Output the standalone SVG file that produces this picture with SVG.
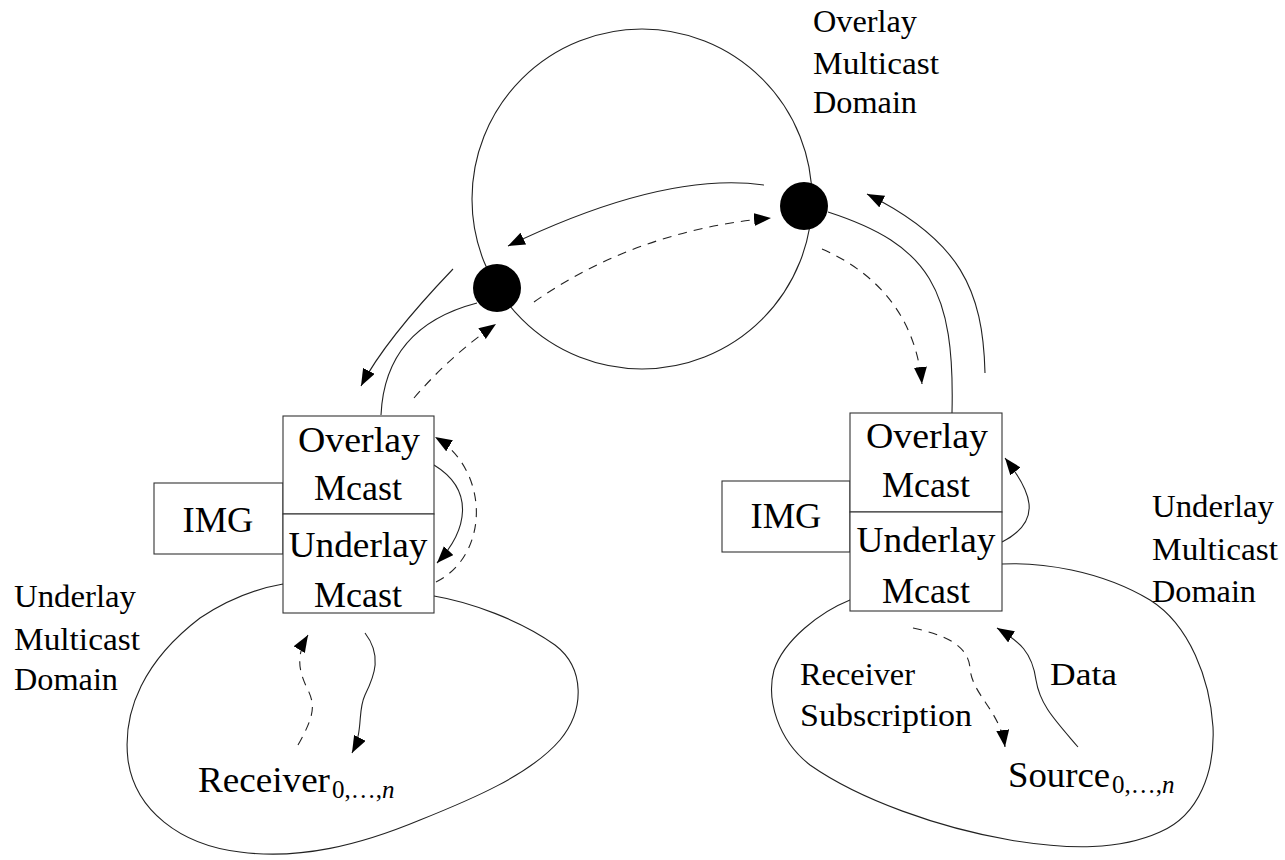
<svg xmlns="http://www.w3.org/2000/svg" width="1285" height="860" viewBox="0 0 1285 860">
<style>
.ln{fill:none;stroke:#222;stroke-width:1.1}
.ds{fill:none;stroke:#222;stroke-width:1.1;stroke-dasharray:9 7}
.bx{fill:#fff;stroke:#333;stroke-width:1.1}
.t{font-family:"Liberation Serif","DejaVu Serif",serif;fill:#000}
.b{font-size:35px;text-anchor:middle}
.l{font-size:31px}
.s{font-size:25px}
</style>
<defs>
<marker id="ah" markerUnits="userSpaceOnUse" markerWidth="18" markerHeight="14" refX="17" refY="6.5" orient="auto">
<path d="M0,0 L17,6.5 L0,13 z" fill="#000"/>
</marker>
</defs>
<g id="domains">
<path id="left-domain" class="ln" d="M434,596 C470,602 520,620 555,645 C585,668 585,710 560,740 C530,775 470,800 420,820 C360,845 300,860 240,852 C180,845 135,810 128,760 C122,710 145,660 200,618 C230,598 260,588 283,584 Z"/>
<path id="right-domain" class="ln" d="M1002,564 C1040,562 1100,570 1150,600 C1190,625 1210,680 1213,727 C1215,770 1200,815 1160,832 C1120,850 1070,850 1010,840 C940,828 860,800 810,765 C778,740 766,700 774,670 C784,640 820,612 850,600 Z"/>
<circle id="overlay-domain" class="ln" cx="642" cy="199" r="170"/>
</g>
<g id="connectors">
<path class="ln" d="M453,269 Q385,340 361,386" marker-end="url(#ah)"/>
<path class="ln" d="M381,415 Q385,327 477,303"/>
<path class="ds" d="M414,398 Q450,356 496,324" marker-end="url(#ah)"/>
<path class="ln" d="M764,185 Q664,171 508,246" marker-end="url(#ah)"/>
<path class="ds" d="M534,302 Q637,230 771,218" marker-end="url(#ah)"/>
<path class="ln" d="M828,212 C930,245 955,290 952,413"/>
<path class="ln" d="M985,373 C983,290 960,240 867,194" marker-end="url(#ah)"/>
<path class="ds" d="M822,249 C870,270 915,310 922,384" marker-end="url(#ah)"/>
<path class="ln" d="M434,465 C475,490 468,530 437,563" marker-end="url(#ah)"/>
<path class="ds" d="M436,582 C490,555 490,470 435,437" marker-end="url(#ah)"/>
<path class="ln" d="M1002,542 C1045,520 1030,490 1005,458" marker-end="url(#ah)"/>
<path class="ds" d="M298,745 C315,715 315,705 308,690 C298,670 296,655 308,635" marker-end="url(#ah)"/>
<path class="ln" d="M365,633 C382,655 375,675 365,695 C357,712 364,730 352,753" marker-end="url(#ah)"/>
<path class="ds" d="M913,628 C945,635 968,645 970,668 C972,695 1000,710 1005,747" marker-end="url(#ah)"/>
<path class="ln" d="M1078,747 C1055,720 1040,705 1036,680 C1032,652 1020,642 997,628" marker-end="url(#ah)"/>
</g>
<g id="gateway-left">
<circle cx="497" cy="288" r="24" fill="#000"/>
</g>
<g id="gateway-right">
<circle cx="804" cy="206" r="24" fill="#000"/>
</g>
<g id="img-left">
<rect class="bx" x="154" y="483" width="129" height="71"/>
<text class="t b" x="218" y="532" textLength="71" lengthAdjust="spacingAndGlyphs">IMG</text>
</g>
<g id="overlay-left">
<rect class="bx" x="283" y="416" width="151" height="98"/>
<text class="t b" x="359" y="452" textLength="122" lengthAdjust="spacingAndGlyphs">Overlay</text>
<text class="t b" x="358" y="500" textLength="88" lengthAdjust="spacingAndGlyphs">Mcast</text>
</g>
<g id="underlay-left">
<rect class="bx" x="283" y="514" width="151" height="99"/>
<text class="t b" x="358" y="557" textLength="139" lengthAdjust="spacingAndGlyphs">Underlay</text>
<text class="t b" x="358" y="607" textLength="88" lengthAdjust="spacingAndGlyphs">Mcast</text>
</g>
<g id="img-right">
<rect class="bx" x="722" y="481" width="128" height="71"/>
<text class="t b" x="786" y="528" textLength="71" lengthAdjust="spacingAndGlyphs">IMG</text>
</g>
<g id="overlay-right">
<rect class="bx" x="850" y="413" width="152" height="99"/>
<text class="t b" x="927" y="448" textLength="122" lengthAdjust="spacingAndGlyphs">Overlay</text>
<text class="t b" x="926" y="497" textLength="88" lengthAdjust="spacingAndGlyphs">Mcast</text>
</g>
<g id="underlay-right">
<rect class="bx" x="850" y="512" width="152" height="99"/>
<text class="t b" x="926" y="552" textLength="139" lengthAdjust="spacingAndGlyphs">Underlay</text>
<text class="t b" x="926" y="603" textLength="88" lengthAdjust="spacingAndGlyphs">Mcast</text>
</g>
<g id="labels">
<text class="t l" x="813" y="32" textLength="104" lengthAdjust="spacingAndGlyphs">Overlay</text>
<text class="t l" x="813" y="74" textLength="126" lengthAdjust="spacingAndGlyphs">Multicast</text>
<text class="t l" x="813" y="113" textLength="104" lengthAdjust="spacingAndGlyphs">Domain</text>
<text class="t l" x="14" y="607" textLength="122" lengthAdjust="spacingAndGlyphs">Underlay</text>
<text class="t l" x="14" y="650" textLength="126" lengthAdjust="spacingAndGlyphs">Multicast</text>
<text class="t l" x="14" y="690" textLength="104" lengthAdjust="spacingAndGlyphs">Domain</text>
<text class="t l" x="1152" y="517" textLength="122" lengthAdjust="spacingAndGlyphs">Underlay</text>
<text class="t l" x="1152" y="560" textLength="126" lengthAdjust="spacingAndGlyphs">Multicast</text>
<text class="t l" x="1152" y="602" textLength="104" lengthAdjust="spacingAndGlyphs">Domain</text>
<text class="t l" x="800" y="685" textLength="115" lengthAdjust="spacingAndGlyphs">Receiver</text>
<text class="t l" x="800" y="726" textLength="172" lengthAdjust="spacingAndGlyphs">Subscription</text>
<text class="t l" x="1050" y="685" textLength="67" lengthAdjust="spacingAndGlyphs">Data</text>
</g>
<g id="receiver">
<text class="t" font-size="35" x="198" y="792" textLength="132" lengthAdjust="spacingAndGlyphs">Receiver</text>
<text class="t s" x="332" y="798">0,…,<tspan font-style="italic">n</tspan></text>
</g>
<g id="source">
<text class="t" font-size="35" x="1008" y="787" textLength="102" lengthAdjust="spacingAndGlyphs">Source</text>
<text class="t s" x="1112" y="793">0,…,<tspan font-style="italic">n</tspan></text>
</g>
</svg>
